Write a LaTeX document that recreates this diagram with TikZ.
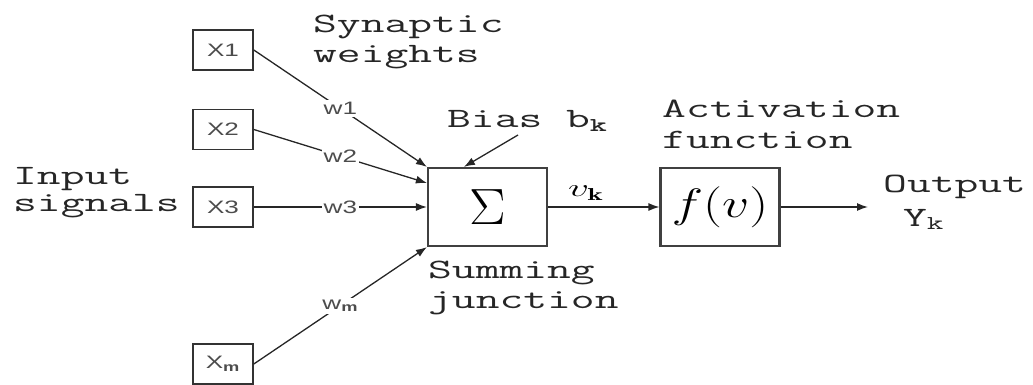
\documentclass[tikz,border=0pt]{standalone}
\usepackage{fontspec}
\newfontfamily\boxfont{Liberation Sans}
\usetikzlibrary{arrows.meta,calc}
% wide typewriter captions and wide sans labels
\newcommand\stretched[1]{\scalebox{1.65}[1]{#1}}
\newcommand\widesans[1]{\scalebox{1.45}[1]{#1}}

\begin{document}
\begin{tikzpicture}[x=1pt,y=-1pt,
  inputbox/.style={draw=black!80, line width=1.6pt, minimum width=60pt,
    minimum height=40pt, inner sep=0pt,
    font=\boxfont\fontsize{18}{18}\selectfont, text=black!70},
  blockbox/.style={draw=black!75, line width=2.2pt, minimum width=119pt,
    minimum height=78pt, inner sep=0pt},
  weight/.style={fill=white, inner sep=2pt,
    font=\boxfont\fontsize{18}{18}\selectfont, text=black!70},
  caption/.style={anchor=base west, inner sep=0pt,
    font=\ttfamily\fontsize{28}{30}\selectfont, text=black!85},
  signal/.style={line width=1.3pt, draw=black!85,
    -{Latex[length=11pt,width=8pt]}},
]
\useasboundingbox (0,0) rectangle (1033,385);

% input signals
\node[inputbox] (x1) at (223,50)    {\widesans{X1}};
\node[inputbox] (x2) at (223,129.5) {\widesans{X2}};
\node[inputbox] (x3) at (223,207)   {\widesans{X3}};
\node[inputbox] (xm) at (223,364)   {\widesans{X\textsubscript{\bfseries m}}};

% summing junction and activation function
\node[blockbox] (sum) at (487.5,207) {\Huge\scalebox{2.2}[2.05]{$\Sigma$}};
\node[blockbox] (act) at (720,207)   {\Huge\scalebox{2.15}[1.65]{$f(v)$}};

% weighted connections
\draw[signal] (x1.east) -- node[weight] {\widesans{w1}} (sum.north west);
\draw[signal] (x2.east) -- node[weight] {\widesans{w2}} ($(sum.west)+(0,-24)$);
\draw[signal] (x3.east) -- node[weight] {\widesans{w3}} (sum.west);
\draw[signal] (xm.east) -- node[weight] {\widesans{w\textsubscript{\bfseries m}}} (sum.south west);

% bias input
\coordinate (biassrc) at (518,135);
\draw[signal] (biassrc) -- ($(sum.north west)+(37,0)$);

% induced field and output
\draw[signal] (sum.east) -- node[pos=0.34, above=6pt, inner sep=0pt]
  {\huge\scalebox{2.0}[1.2]{$v_{\mathbf{k}}$}} (act.west);
\coordinate (outend) at (868,207);
\draw[signal] (act.east) -- (outend);

% captions
\node[caption] (syn) at (313,33)
  {\stretched{\begin{tabular}[t]{@{}l@{}}Synaptic\\weights\end{tabular}}};
\node[caption] (bias) at (447,128)
  {\stretched{Bias b\textsubscript{\bfseries k}}};
\node[caption] (actlbl) at (662,118)
  {\stretched{\begin{tabular}[t]{@{}l@{}}Activation\\function\end{tabular}}};
\node[caption, font=\ttfamily\fontsize{28}{27}\selectfont] (inlbl) at (13,184)
  {\stretched{\begin{tabular}[t]{@{}l@{}}Input\\signals\end{tabular}}};
\node[caption] (sumlbl) at (428,278)
  {\stretched{\begin{tabular}[t]{@{}l@{}}Summing\\junction\end{tabular}}};
\node[caption] (outlbl) at (883,192)
  {\stretched{\begin{tabular}[t]{@{}l@{}}Output\\[4pt]\hspace*{12pt}Y\textsubscript{k}\end{tabular}}};
\end{tikzpicture}
\end{document}
